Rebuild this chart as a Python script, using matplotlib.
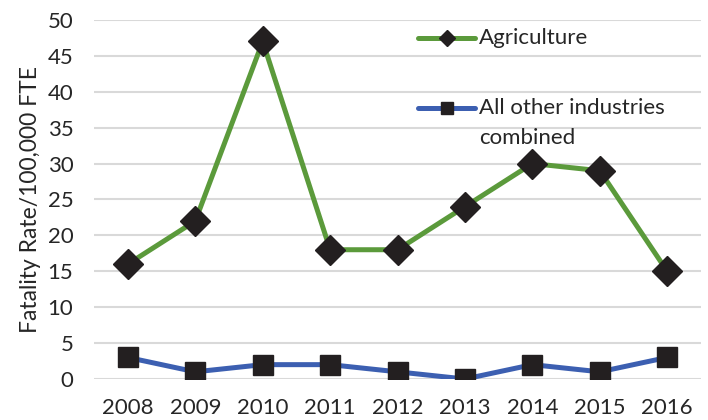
import matplotlib
matplotlib.use("Agg")
import matplotlib.pyplot as plt

years = ["2008", "2009", "2010", "2011", "2012", "2013", "2014", "2015", "2016"]
agriculture = [16, 22, 47, 18, 18, 24, 30, 29, 15]
other_industries = [3, 1, 2, 2, 1, 0, 2, 1, 3]

GREEN = "#5b9a3b"
BLUE = "#3c5fb1"
TEXT = "#262626"
GRID = "#d9d9d9"
FS = 16

plt.rcParams.update({"font.family": ["Lato", "DejaVu Sans"], "font.size": FS})

fig = plt.figure(figsize=(7.08, 4.2), dpi=100)
ax = fig.add_axes([0.133, 0.0976, 0.857, 0.855])

x = range(len(years))
ax.plot(x, agriculture, color=GREEN, lw=3.6, marker="D", ms=15,
        mfc="#231f20", mec="#231f20", zorder=3)
ax.plot(x, other_industries, color=BLUE, lw=3.6, marker="s", ms=15,
        mfc="#231f20", mec="#231f20", zorder=3)

ax.set_xlim(-0.5, len(years) - 0.5)
ax.set_ylim(0, 50)
ax.set_yticks(range(0, 51, 5))
ax.set_xticks(list(x))
ax.set_xticklabels(years)
ax.tick_params(length=0, colors=TEXT, labelsize=FS)
ax.tick_params(axis="x", pad=14)
ax.tick_params(axis="y", pad=15)
ax.grid(axis="y", color=GRID, lw=1.5)
ax.set_axisbelow(True)
for s in ax.spines.values():
    s.set_visible(False)
ax.set_ylabel("Fatality Rate/100,000 FTE", color=TEXT, fontsize=16.5, labelpad=5)

# legend drawn by hand so the handle sits on the first line of a wrapped label
tr = ax.transAxes
for yy, col, mk, ms, lines in [(0.950, GREEN, "D", 8, ["Agriculture"]),
                               (0.755, BLUE, "s", 9, ["All other industries", "combined"])]:
    ax.plot([0.534, 0.628], [yy, yy], color=col, lw=3.6, transform=tr,
            clip_on=False, solid_capstyle="round")
    ax.plot([0.581], [yy], marker=mk, ms=ms, color="#231f20", transform=tr,
            clip_on=False)
    for i, lab in enumerate(lines):
        ax.text(0.634, yy - i * 0.084, lab, transform=tr, ha="left", va="center",
                color=TEXT, fontsize=FS)

fig.savefig("out.png", dpi=100)
